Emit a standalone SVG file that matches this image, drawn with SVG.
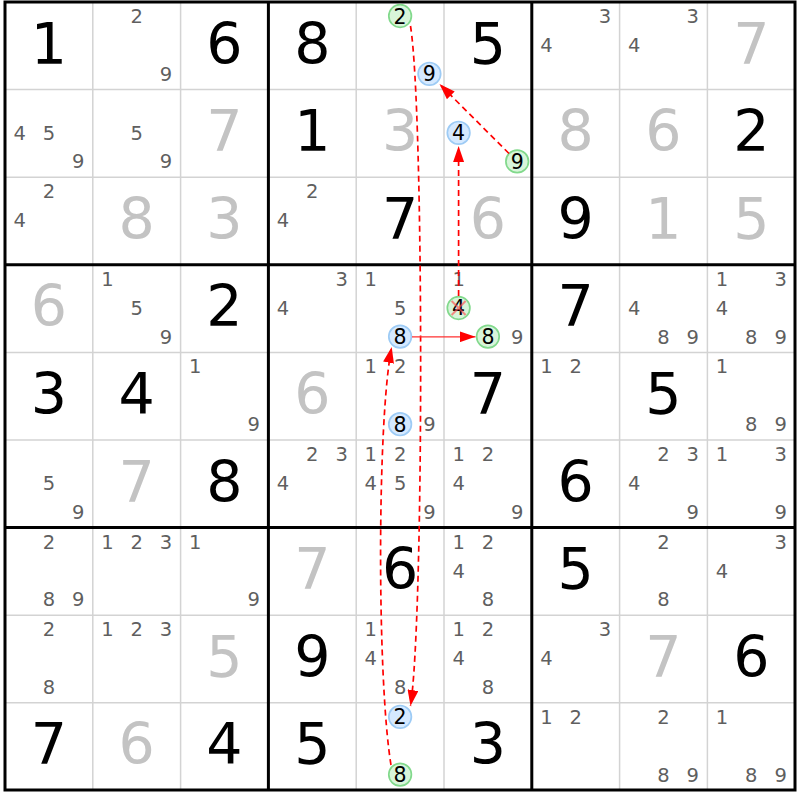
<svg xmlns="http://www.w3.org/2000/svg" width="800" height="800" viewBox="0 0 800 800">
<style>
text{font-family:"DejaVu Sans","Liberation Sans",sans-serif;text-anchor:middle}
.g{font-size:57px;fill:#000}
.s{font-size:57px;fill:#c3c3c3}
.c{font-size:19.5px;fill:#5f5f5f}
.h{font-size:20.5px;fill:#000}
.cb{fill:#d5e9ff;stroke:#9dcbf5;stroke-width:1.7}
.cg{fill:#d8f5da;stroke:#82d98c;stroke-width:1.7}
.thin{stroke:#d3d3d3;stroke-width:1.5}
.thick{stroke:#000;stroke-width:3}
.dash{fill:none;stroke:#ff0000;stroke-width:1.7;stroke-dasharray:6,4}
.solid{fill:none;stroke:#ff3030;stroke-width:1.2}
</style>
<defs>
<marker id="ah" markerUnits="userSpaceOnUse" markerWidth="16" markerHeight="11" refX="16" refY="5.5" orient="auto">
<path d="M0,0 L16,5.5 L0,11 Z" fill="#ff0000"/>
</marker>
</defs>
<rect x="0" y="0" width="800" height="800" fill="#fff"/>
<g id="grid">
<path class="thin" d="M92.8,2V790M180.6,2V790M356.2,2V790M444,2V790M619.6,2V790M707.4,2V790M5,89.6H795M5,177.2H795M5,352.4H795M5,440H795M5,615.2H795M5,702.8H795"/>
<path class="thick" d="M268.4,2V790M531.8,2V790M5,264.8H795M5,527.6H795"/>
<rect x="5" y="2" width="790" height="788" fill="none" stroke="#000" stroke-width="3"/>
</g>
<!-- row 1 -->
<g id="r1c1" transform="translate(5,2)"><text class="g" x="43.9" y="61.5">1</text></g>
<g id="r1c2" transform="translate(92.8,2)"><text class="c" x="43.9" y="21">2</text><text class="c" x="73.2" y="78.9">9</text></g>
<g id="r1c3" transform="translate(180.6,2)"><text class="g" x="43.9" y="61.5">6</text></g>
<g id="r1c4" transform="translate(268.4,2)"><text class="g" x="43.9" y="61.5">8</text></g>
<g id="r1c5" transform="translate(356.2,2)"><circle class="cg" cx="43.9" cy="14" r="11.3"/><text class="h" x="43.9" y="21.5">2</text><circle class="cb" cx="73.2" cy="71.8" r="11.3"/><text class="h" x="73.2" y="79.3">9</text></g>
<g id="r1c6" transform="translate(444,2)"><text class="g" x="43.9" y="61.5">5</text></g>
<g id="r1c7" transform="translate(531.8,2)"><text class="c" x="73.2" y="21">3</text><text class="c" x="14.6" y="50.2">4</text></g>
<g id="r1c8" transform="translate(619.6,2)"><text class="c" x="73.2" y="21">3</text><text class="c" x="14.6" y="50.2">4</text></g>
<g id="r1c9" transform="translate(707.4,2)"><text class="s" x="43.9" y="61.5">7</text></g>
<!-- row 2 -->
<g id="r2c1" transform="translate(5,89.6)"><text class="c" x="14.6" y="50.2">4</text><text class="c" x="43.9" y="50.2">5</text><text class="c" x="73.2" y="78.9">9</text></g>
<g id="r2c2" transform="translate(92.8,89.6)"><text class="c" x="43.9" y="50.2">5</text><text class="c" x="73.2" y="78.9">9</text></g>
<g id="r2c3" transform="translate(180.6,89.6)"><text class="s" x="43.9" y="61.5">7</text></g>
<g id="r2c4" transform="translate(268.4,89.6)"><text class="g" x="43.9" y="61.5">1</text></g>
<g id="r2c5" transform="translate(356.2,89.6)"><text class="s" x="43.9" y="61.5">3</text></g>
<g id="r2c6" transform="translate(444,89.6)"><circle class="cb" cx="14.6" cy="43.2" r="11.3"/><text class="h" x="14.6" y="50.7">4</text><circle class="cg" cx="73.2" cy="71.8" r="11.3"/><text class="h" x="73.2" y="79.3">9</text></g>
<g id="r2c7" transform="translate(531.8,89.6)"><text class="s" x="43.9" y="61.5">8</text></g>
<g id="r2c8" transform="translate(619.6,89.6)"><text class="s" x="43.9" y="61.5">6</text></g>
<g id="r2c9" transform="translate(707.4,89.6)"><text class="g" x="43.9" y="61.5">2</text></g>
<!-- row 3 -->
<g id="r3c1" transform="translate(5,177.2)"><text class="c" x="43.9" y="21">2</text><text class="c" x="14.6" y="50.2">4</text></g>
<g id="r3c2" transform="translate(92.8,177.2)"><text class="s" x="43.9" y="61.5">8</text></g>
<g id="r3c3" transform="translate(180.6,177.2)"><text class="s" x="43.9" y="61.5">3</text></g>
<g id="r3c4" transform="translate(268.4,177.2)"><text class="c" x="43.9" y="21">2</text><text class="c" x="14.6" y="50.2">4</text></g>
<g id="r3c5" transform="translate(356.2,177.2)"><text class="g" x="43.9" y="61.5">7</text></g>
<g id="r3c6" transform="translate(444,177.2)"><text class="s" x="43.9" y="61.5">6</text></g>
<g id="r3c7" transform="translate(531.8,177.2)"><text class="g" x="43.9" y="61.5">9</text></g>
<g id="r3c8" transform="translate(619.6,177.2)"><text class="s" x="43.9" y="61.5">1</text></g>
<g id="r3c9" transform="translate(707.4,177.2)"><text class="s" x="43.9" y="61.5">5</text></g>
<!-- row 4 -->
<g id="r4c1" transform="translate(5,264.8)"><text class="s" x="43.9" y="61.5">6</text></g>
<g id="r4c2" transform="translate(92.8,264.8)"><text class="c" x="14.6" y="21">1</text><text class="c" x="43.9" y="50.2">5</text><text class="c" x="73.2" y="78.9">9</text></g>
<g id="r4c3" transform="translate(180.6,264.8)"><text class="g" x="43.9" y="61.5">2</text></g>
<g id="r4c4" transform="translate(268.4,264.8)"><text class="c" x="73.2" y="21">3</text><text class="c" x="14.6" y="50.2">4</text></g>
<g id="r4c5" transform="translate(356.2,264.8)"><text class="c" x="14.6" y="21">1</text><text class="c" x="43.9" y="50.2">5</text><circle class="cb" cx="43.9" cy="71.8" r="11.3"/><text class="h" x="43.9" y="79.3">8</text></g>
<g id="r4c6" transform="translate(444,264.8)"><text class="c" x="14.6" y="21">1</text><circle class="cg" cx="14.6" cy="43.2" r="11.3"/><text class="h" x="14.6" y="50.7">4</text><path d="M7.6,36.2L21.6,50.2M21.6,36.2L7.6,50.2" stroke="#ff5050" stroke-width="2" stroke-opacity="0.65"/><circle class="cg" cx="43.9" cy="71.8" r="11.3"/><text class="h" x="43.9" y="79.3">8</text><text class="c" x="73.2" y="78.9">9</text></g>
<g id="r4c7" transform="translate(531.8,264.8)"><text class="g" x="43.9" y="61.5">7</text></g>
<g id="r4c8" transform="translate(619.6,264.8)"><text class="c" x="14.6" y="50.2">4</text><text class="c" x="43.9" y="78.9">8</text><text class="c" x="73.2" y="78.9">9</text></g>
<g id="r4c9" transform="translate(707.4,264.8)"><text class="c" x="14.6" y="21">1</text><text class="c" x="73.2" y="21">3</text><text class="c" x="14.6" y="50.2">4</text><text class="c" x="43.9" y="78.9">8</text><text class="c" x="73.2" y="78.9">9</text></g>
<!-- row 5 -->
<g id="r5c1" transform="translate(5,352.4)"><text class="g" x="43.9" y="61.5">3</text></g>
<g id="r5c2" transform="translate(92.8,352.4)"><text class="g" x="43.9" y="61.5">4</text></g>
<g id="r5c3" transform="translate(180.6,352.4)"><text class="c" x="14.6" y="21">1</text><text class="c" x="73.2" y="78.9">9</text></g>
<g id="r5c4" transform="translate(268.4,352.4)"><text class="s" x="43.9" y="61.5">6</text></g>
<g id="r5c5" transform="translate(356.2,352.4)"><text class="c" x="14.6" y="21">1</text><text class="c" x="43.9" y="21">2</text><circle class="cb" cx="43.9" cy="71.8" r="11.3"/><text class="h" x="43.9" y="79.3">8</text><text class="c" x="73.2" y="78.9">9</text></g>
<g id="r5c6" transform="translate(444,352.4)"><text class="g" x="43.9" y="61.5">7</text></g>
<g id="r5c7" transform="translate(531.8,352.4)"><text class="c" x="14.6" y="21">1</text><text class="c" x="43.9" y="21">2</text></g>
<g id="r5c8" transform="translate(619.6,352.4)"><text class="g" x="43.9" y="61.5">5</text></g>
<g id="r5c9" transform="translate(707.4,352.4)"><text class="c" x="14.6" y="21">1</text><text class="c" x="43.9" y="78.9">8</text><text class="c" x="73.2" y="78.9">9</text></g>
<!-- row 6 -->
<g id="r6c1" transform="translate(5,440)"><text class="c" x="43.9" y="50.2">5</text><text class="c" x="73.2" y="78.9">9</text></g>
<g id="r6c2" transform="translate(92.8,440)"><text class="s" x="43.9" y="61.5">7</text></g>
<g id="r6c3" transform="translate(180.6,440)"><text class="g" x="43.9" y="61.5">8</text></g>
<g id="r6c4" transform="translate(268.4,440)"><text class="c" x="43.9" y="21">2</text><text class="c" x="73.2" y="21">3</text><text class="c" x="14.6" y="50.2">4</text></g>
<g id="r6c5" transform="translate(356.2,440)"><text class="c" x="14.6" y="21">1</text><text class="c" x="43.9" y="21">2</text><text class="c" x="14.6" y="50.2">4</text><text class="c" x="43.9" y="50.2">5</text><text class="c" x="73.2" y="78.9">9</text></g>
<g id="r6c6" transform="translate(444,440)"><text class="c" x="14.6" y="21">1</text><text class="c" x="43.9" y="21">2</text><text class="c" x="14.6" y="50.2">4</text><text class="c" x="73.2" y="78.9">9</text></g>
<g id="r6c7" transform="translate(531.8,440)"><text class="g" x="43.9" y="61.5">6</text></g>
<g id="r6c8" transform="translate(619.6,440)"><text class="c" x="43.9" y="21">2</text><text class="c" x="73.2" y="21">3</text><text class="c" x="14.6" y="50.2">4</text><text class="c" x="73.2" y="78.9">9</text></g>
<g id="r6c9" transform="translate(707.4,440)"><text class="c" x="14.6" y="21">1</text><text class="c" x="73.2" y="21">3</text><text class="c" x="73.2" y="78.9">9</text></g>
<!-- row 7 -->
<g id="r7c1" transform="translate(5,527.6)"><text class="c" x="43.9" y="21">2</text><text class="c" x="43.9" y="78.9">8</text><text class="c" x="73.2" y="78.9">9</text></g>
<g id="r7c2" transform="translate(92.8,527.6)"><text class="c" x="14.6" y="21">1</text><text class="c" x="43.9" y="21">2</text><text class="c" x="73.2" y="21">3</text></g>
<g id="r7c3" transform="translate(180.6,527.6)"><text class="c" x="14.6" y="21">1</text><text class="c" x="73.2" y="78.9">9</text></g>
<g id="r7c4" transform="translate(268.4,527.6)"><text class="s" x="43.9" y="61.5">7</text></g>
<g id="r7c5" transform="translate(356.2,527.6)"><text class="g" x="43.9" y="61.5">6</text></g>
<g id="r7c6" transform="translate(444,527.6)"><text class="c" x="14.6" y="21">1</text><text class="c" x="43.9" y="21">2</text><text class="c" x="14.6" y="50.2">4</text><text class="c" x="43.9" y="78.9">8</text></g>
<g id="r7c7" transform="translate(531.8,527.6)"><text class="g" x="43.9" y="61.5">5</text></g>
<g id="r7c8" transform="translate(619.6,527.6)"><text class="c" x="43.9" y="21">2</text><text class="c" x="43.9" y="78.9">8</text></g>
<g id="r7c9" transform="translate(707.4,527.6)"><text class="c" x="73.2" y="21">3</text><text class="c" x="14.6" y="50.2">4</text></g>
<!-- row 8 -->
<g id="r8c1" transform="translate(5,615.2)"><text class="c" x="43.9" y="21">2</text><text class="c" x="43.9" y="78.9">8</text></g>
<g id="r8c2" transform="translate(92.8,615.2)"><text class="c" x="14.6" y="21">1</text><text class="c" x="43.9" y="21">2</text><text class="c" x="73.2" y="21">3</text></g>
<g id="r8c3" transform="translate(180.6,615.2)"><text class="s" x="43.9" y="61.5">5</text></g>
<g id="r8c4" transform="translate(268.4,615.2)"><text class="g" x="43.9" y="61.5">9</text></g>
<g id="r8c5" transform="translate(356.2,615.2)"><text class="c" x="14.6" y="21">1</text><text class="c" x="14.6" y="50.2">4</text><text class="c" x="43.9" y="78.9">8</text></g>
<g id="r8c6" transform="translate(444,615.2)"><text class="c" x="14.6" y="21">1</text><text class="c" x="43.9" y="21">2</text><text class="c" x="14.6" y="50.2">4</text><text class="c" x="43.9" y="78.9">8</text></g>
<g id="r8c7" transform="translate(531.8,615.2)"><text class="c" x="73.2" y="21">3</text><text class="c" x="14.6" y="50.2">4</text></g>
<g id="r8c8" transform="translate(619.6,615.2)"><text class="s" x="43.9" y="61.5">7</text></g>
<g id="r8c9" transform="translate(707.4,615.2)"><text class="g" x="43.9" y="61.5">6</text></g>
<!-- row 9 -->
<g id="r9c1" transform="translate(5,702.8)"><text class="g" x="43.9" y="61.5">7</text></g>
<g id="r9c2" transform="translate(92.8,702.8)"><text class="s" x="43.9" y="61.5">6</text></g>
<g id="r9c3" transform="translate(180.6,702.8)"><text class="g" x="43.9" y="61.5">4</text></g>
<g id="r9c4" transform="translate(268.4,702.8)"><text class="g" x="43.9" y="61.5">5</text></g>
<g id="r9c5" transform="translate(356.2,702.8)"><circle class="cb" cx="43.9" cy="14" r="11.3"/><text class="h" x="43.9" y="21.5">2</text><circle class="cg" cx="43.9" cy="71.8" r="11.3"/><text class="h" x="43.9" y="79.3">8</text></g>
<g id="r9c6" transform="translate(444,702.8)"><text class="g" x="43.9" y="61.5">3</text></g>
<g id="r9c7" transform="translate(531.8,702.8)"><text class="c" x="14.6" y="21">1</text><text class="c" x="43.9" y="21">2</text></g>
<g id="r9c8" transform="translate(619.6,702.8)"><text class="c" x="43.9" y="21">2</text><text class="c" x="43.9" y="78.9">8</text><text class="c" x="73.2" y="78.9">9</text></g>
<g id="r9c9" transform="translate(707.4,702.8)"><text class="c" x="14.6" y="21">1</text><text class="c" x="43.9" y="78.9">8</text><text class="c" x="73.2" y="78.9">9</text></g>
<g id="connectors">
<path class="dash" d="M410.5,26 C424,110 424,620 410.5,706" marker-end="url(#ah)"/>
<path class="dash" d="M509,153.5 L439.5,84" marker-end="url(#ah)"/>
<path class="dash" d="M458.6,296 L458.6,146" marker-end="url(#ah)"/>
<path class="solid" d="M412,336.8 L475.5,336.8" marker-end="url(#ah)"/>
<path class="dash" d="M391,765 C377,680 377,420 391.7,347" marker-end="url(#ah)"/>
</g>
</svg>
